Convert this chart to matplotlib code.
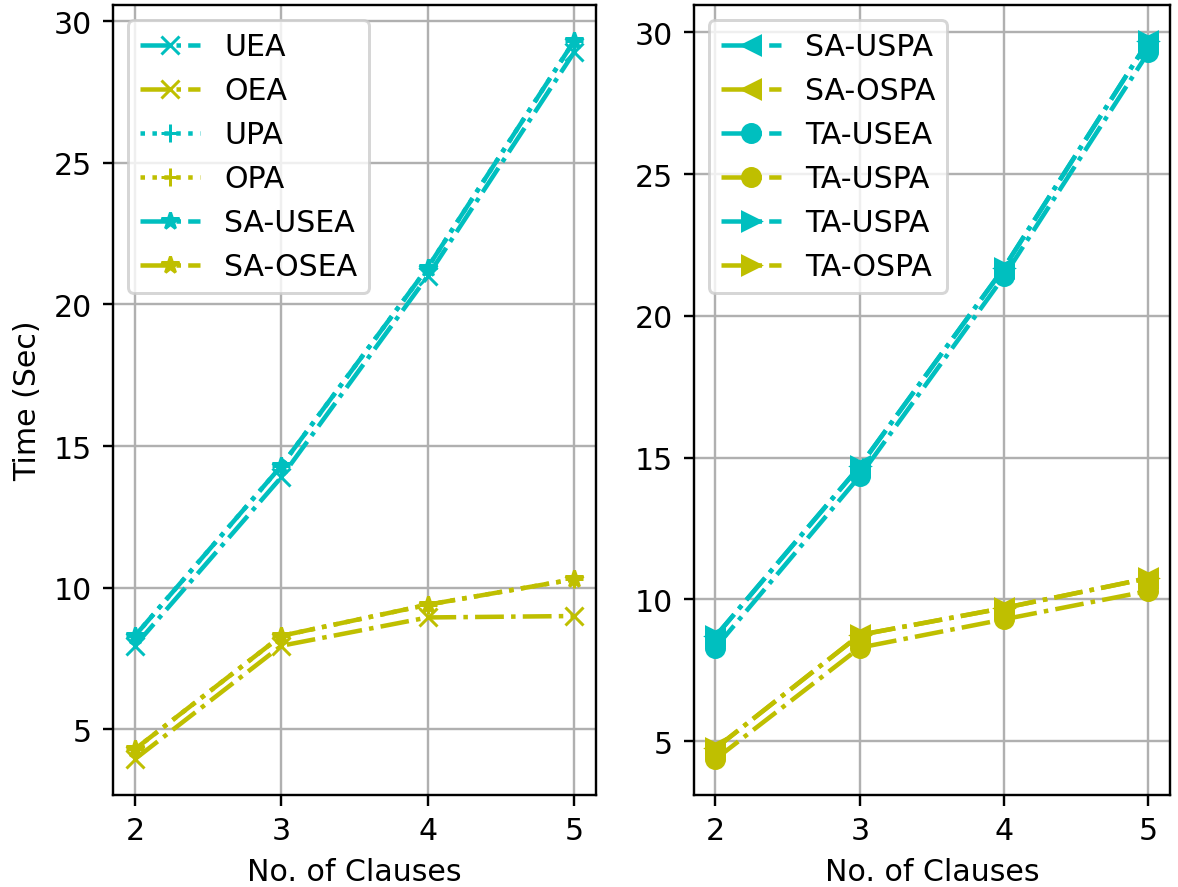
import matplotlib

matplotlib.use("Agg")
import matplotlib.pyplot as plt

clauses = [2, 3, 4, 5]

# left panel
uea = [7.95, 13.9, 21.0, 28.9]
oea = [3.95, 7.95, 8.95, 9.0]
upa = [8.3, 14.3, 21.3, 29.3]
opa = [4.3, 8.3, 9.4, 10.3]
sa_usea = [8.3, 14.3, 21.3, 29.3]
sa_osea = [4.3, 8.3, 9.4, 10.3]

# right panel
sa_uspa = [8.7, 14.7, 21.7, 29.7]
sa_ospa = [4.75, 8.75, 9.7, 10.75]
ta_usea = [8.3, 14.35, 21.4, 29.3]
ta_uspa_y = [4.37, 8.3, 9.3, 10.3]
ta_uspa_c = [8.7, 14.7, 21.7, 29.7]
ta_ospa = [4.75, 8.75, 9.7, 10.75]

dpi = 216
fig = plt.figure(figsize=(1178 / dpi, 888 / dpi), dpi=dpi)
ax1 = fig.add_axes([0.0959, 0.1036, 0.506 - 0.0959, 0.9932 - 0.1036])
ax2 = fig.add_axes([0.589, 0.1036, 0.9932 - 0.589, 0.9932 - 0.1036])

ax1.plot(clauses, uea, "c-.x", label="UEA")
ax1.plot(clauses, oea, "y-.x", label="OEA")
ax1.plot(clauses, upa, "c:+", label="UPA")
ax1.plot(clauses, opa, "y:+", label="OPA")
ax1.plot(clauses, sa_usea, "c-.*", label="SA-USEA")
ax1.plot(clauses, sa_osea, "y-.*", label="SA-OSEA")
ax1.set_xlabel("No. of Clauses")
ax1.set_ylabel("Time (Sec)")
ax1.set_xticks(clauses)
ax1.grid(True)
ax1.legend(loc="upper left")

ax2.plot(clauses, sa_uspa, "c-.<", label="SA-USPA")
ax2.plot(clauses, sa_ospa, "y-.<", label="SA-OSPA")
ax2.plot(clauses, ta_usea, "c-.o", label="TA-USEA")
ax2.plot(clauses, ta_uspa_y, "y-.o", label="TA-USPA")
ax2.plot(clauses, ta_uspa_c, "c-.>", label="TA-USPA")
ax2.plot(clauses, ta_ospa, "y-.>", label="TA-OSPA")
ax2.set_xlabel("No. of Clauses")
ax2.set_xticks(clauses)
ax2.grid(True)
ax2.legend(loc="upper left")

fig.savefig("out.png", dpi=dpi)
